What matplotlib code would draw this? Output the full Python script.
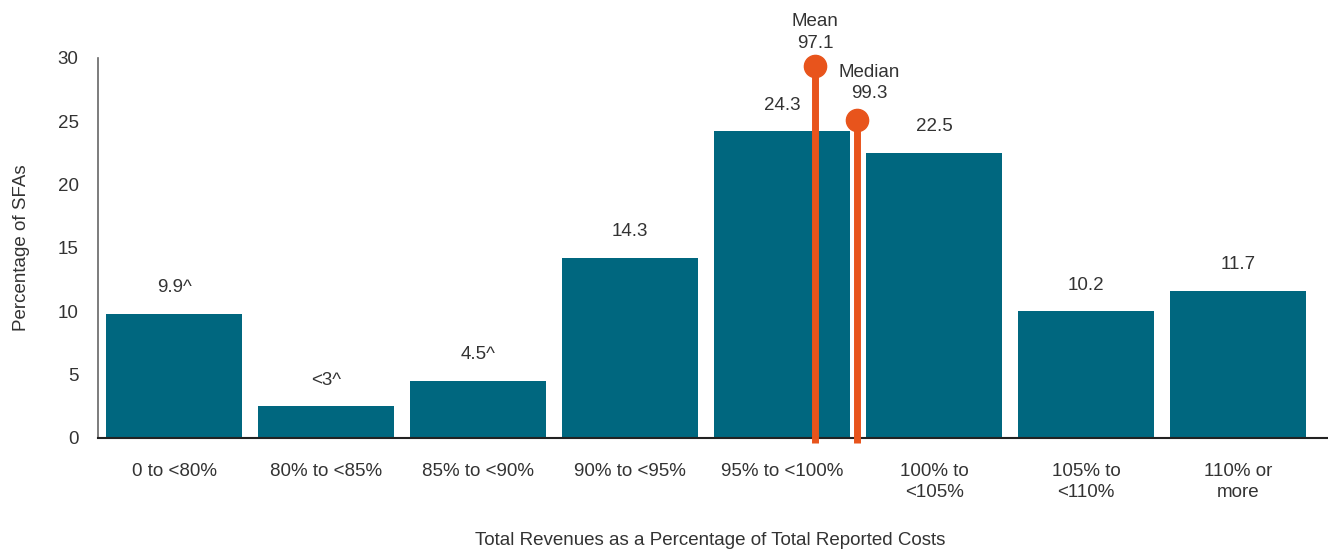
import matplotlib.pyplot as plt
import numpy as np

plt.rcParams['font.family'] = ['Liberation Sans', 'DejaVu Sans']

# data
categories = ['0 to <80%', '80% to <85%', '85% to <90%', '90% to <95%',
              '95% to <100%', '100% to\n<105%', '105% to\n<110%', '110% or\nmore']
values = [9.8, 2.5, 4.5, 14.2, 24.2, 22.5, 10.0, 11.6]
bar_labels = ['9.9^', '<3^', '4.5^', '14.3', '24.3', '22.5', '10.2', '11.7']

stat_names = ['Mean', 'Median']
stat_values = ['97.1', '99.3']
stat_pos = [4.217, 4.49]      # position on the category axis
stat_tops = [29.4, 25.1]

teal = '#00677F'
orange = '#E8541C'
text_c = '#333333'
fs = 13.5

fig = plt.figure(figsize=(13.28, 5.57), dpi=100)
ax = fig.add_axes([0.0738, 0.2137, 0.9262, 0.6822])

x = np.arange(len(categories))
ax.bar(x, values, width=0.895, color=teal, zorder=2)
for xi, v, lab in zip(x, values, bar_labels):
    ax.text(xi, v + 1.4, lab, ha='center', va='bottom', fontsize=fs, color=text_c)

# mean / median markers
for name, sv, pos, top in zip(stat_names, stat_values, stat_pos, stat_tops):
    ax.plot([pos, pos], [-0.4, top], color=orange, lw=5, solid_capstyle='butt',
            zorder=3, clip_on=False)
    ax.plot(pos, top, 'o', color=orange, ms=16, zorder=4, clip_on=False)
ax.text(stat_pos[0], stat_tops[0] + 1.1, stat_names[0] + '\n' + stat_values[0],
        ha='center', va='bottom', fontsize=fs, color=text_c, linespacing=1.35)
ax.text(stat_pos[1] + 0.08, stat_tops[1] + 1.4, stat_names[1] + '\n' + stat_values[1],
        ha='center', va='bottom', fontsize=fs, color=text_c, linespacing=1.35)

ax.set_xlim(-0.5, 7.59)
ax.set_ylim(0, 30)
ax.set_yticks(range(0, 31, 5))
ax.set_xticks(x)
ax.set_xticklabels(categories, fontsize=fs, color=text_c, linespacing=1.3)
ax.tick_params(axis='y', labelsize=fs, labelcolor=text_c, length=0, pad=14)
ax.tick_params(axis='x', length=0, pad=18)

for s in ['top', 'right']:
    ax.spines[s].set_visible(False)
ax.spines['left'].set_color('#666666')
ax.spines['bottom'].set_color('#222222')
ax.spines['left'].set_linewidth(1.2)
ax.spines['bottom'].set_linewidth(1.5)

ax.set_ylabel('Percentage of SFAs', fontsize=fs, color=text_c, labelpad=20)
fig.text(0.535, 0.015, 'Total Revenues as a Percentage of Total Reported Costs',
         ha='center', va='bottom', fontsize=fs, color=text_c)

fig.savefig('out.png', dpi=100)
